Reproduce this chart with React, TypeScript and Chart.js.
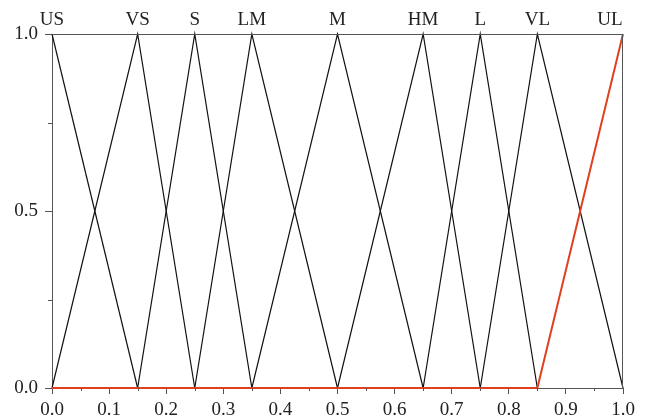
import React, { useEffect, useRef } from "react";
import { Chart, registerables } from "chart.js";

Chart.register(...registerables);

const setNames = ["US", "VS", "S", "LM", "M", "HM", "L", "VL", "UL"];
const lefts = [0.0, 0.0, 0.15, 0.25, 0.35, 0.5, 0.65, 0.75, 0.85];
const peaks = [0.0, 0.15, 0.25, 0.35, 0.5, 0.65, 0.75, 0.85, 1.0];
const rights = [0.15, 0.25, 0.35, 0.5, 0.65, 0.75, 0.85, 1.0, 1.0];
const xTicks = [0, 0.1, 0.2, 0.3, 0.4, 0.5, 0.6, 0.7, 0.8, 0.9, 1.0];
const yTicks = [0, 0.5, 1.0];
const xMinor = [0.05, 0.15, 0.25, 0.35, 0.45, 0.55, 0.65, 0.75, 0.85, 0.95];
const yMinor = [0.25, 0.75];

const FONT = "'Liberation Serif', 'DejaVu Serif', serif";
const AXIS = "#555";

function buildData() {
  return setNames.map((name, i) => {
    const pts: { x: number; y: number }[] = [];
    if (lefts[i] < peaks[i]) pts.push({ x: lefts[i], y: 0 });
    pts.push({ x: peaks[i], y: 1 });
    if (rights[i] > peaks[i]) pts.push({ x: rights[i], y: 0 });
    const isLast = name === "UL";
    if (isLast) {
      pts.unshift({ x: 0, y: 0 });
    }
    return {
      label: name,
      data: pts,
      borderColor: isLast ? "#e0401f" : "#111",
      borderWidth: isLast ? 2 : 1.2,
      pointRadius: 0,
      fill: false,
      tension: 0,
      order: isLast ? 0 : 1,
      clip: false as any,
    };
  });
}

const extraPlugin = {
  id: "extras",
  afterDraw(chart: any) {
    const ctx = chart.ctx;
    const xs = chart.scales.x;
    const ys = chart.scales.y;
    const ca = chart.chartArea;
    ctx.save();
    ctx.strokeStyle = AXIS;
    ctx.lineWidth = 1;
    // top and right frame
    ctx.beginPath();
    ctx.moveTo(ca.left, ca.top + 0.5);
    ctx.lineTo(ca.right, ca.top + 0.5);
    ctx.moveTo(ca.right - 0.5, ca.top);
    ctx.lineTo(ca.right - 0.5, ca.bottom);
    ctx.stroke();
    // minor ticks
    ctx.beginPath();
    xMinor.forEach((v) => {
      const px = Math.round(xs.getPixelForValue(v)) + 0.5;
      ctx.moveTo(px, ca.bottom);
      ctx.lineTo(px, ca.bottom + 3);
    });
    yMinor.forEach((v) => {
      const py = Math.round(ys.getPixelForValue(v)) + 0.5;
      ctx.moveTo(ca.left, py);
      ctx.lineTo(ca.left - 4, py);
    });
    ctx.stroke();
    // set labels
    ctx.fillStyle = "#222";
    ctx.font = "19px " + FONT;
    ctx.textAlign = "center";
    ctx.textBaseline = "alphabetic";
    setNames.forEach((name, i) => {
      let px = xs.getPixelForValue(peaks[i]);
      if (i === setNames.length - 1) px -= 13;
      ctx.fillText(name, px, ca.top - 9);
    });
    ctx.restore();
  },
};

export default function App() {
  const ref = useRef<HTMLCanvasElement>(null);
  useEffect(() => {
    document.body.style.margin = "0";
    const chart = new Chart(ref.current!, {
      type: "line",
      data: { datasets: buildData() as any },
      options: {
        animation: false,
        responsive: false,
        maintainAspectRatio: false,
        layout: { padding: { top: 34, right: 25, left: 0, bottom: 0 } },
        plugins: { legend: { display: false }, tooltip: { enabled: false } },
        scales: {
          x: {
            type: "linear",
            min: 0,
            max: 1,
            afterBuildTicks: (s: any) => {
              s.ticks = xTicks.map((v) => ({ value: v }));
            },
            afterFit: (s: any) => {
              s.height = 31;
            },
            ticks: {
              callback: (v: any) => Number(v).toFixed(1),
              font: { family: FONT, size: 19 },
              color: "#222",
              padding: 5,
              maxRotation: 0,
              autoSkip: false,
            },
            grid: {
              drawOnChartArea: false,
              drawTicks: true,
              tickLength: 6,
              color: AXIS,
            },
            border: { display: true, color: AXIS, width: 1 },
          },
          y: {
            type: "linear",
            min: 0,
            max: 1,
            afterBuildTicks: (s: any) => {
              s.ticks = yTicks.map((v) => ({ value: v }));
            },
            afterFit: (s: any) => {
              s.width = 52;
            },
            ticks: {
              callback: (v: any) => Number(v).toFixed(1),
              font: { family: FONT, size: 19 },
              color: "#222",
              padding: 7,
            },
            grid: {
              drawOnChartArea: false,
              drawTicks: true,
              tickLength: 7,
              color: AXIS,
            },
            border: { display: true, color: AXIS, width: 1 },
          },
        },
      },
      plugins: [extraPlugin],
    });
    return () => chart.destroy();
  }, []);
  return (
    <div style={{ width: 648, height: 419, background: "#fff" }}>
      <canvas ref={ref} width={648} height={419} style={{ display: "block" }} />
    </div>
  );
}
